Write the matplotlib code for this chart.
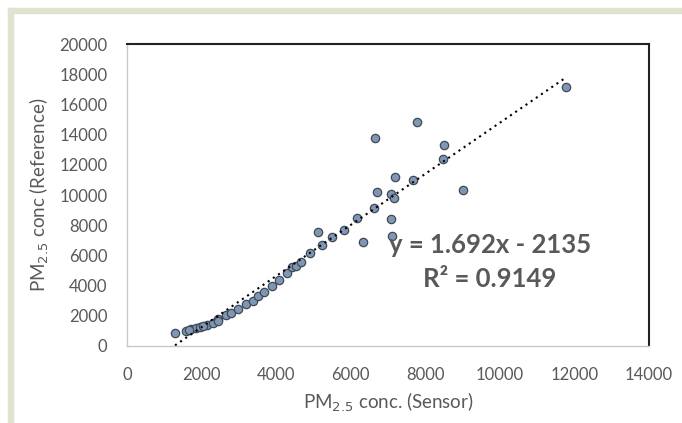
"""Scatter of sensor vs reference PM2.5 with linear trendline."""

import matplotlib.pyplot as plt
import numpy as np
from matplotlib.patches import Rectangle

# sensor readings (x) and reference readings (y)
sensor = [1287, 1574, 1716, 1842, 1958, 2154, 2297, 2449, 2655, 2789,
          2986, 3191, 3388, 3522, 3683, 3880, 4076, 4282, 4416, 4523,
          4666, 4907, 5220, 5505, 5819, 5114, 6175, 6318, 6624, 6713,
          6641, 7071, 7160, 7187, 7071, 7114, 7677, 7766, 8501, 8483,
          9019, 11764, 1650, 2050, 2450]
reference = [840, 1013, 1105, 1212, 1278, 1391, 1503, 1808, 2053, 2205,
             2430, 2781, 3000, 3311, 3596, 3993, 4371, 4812, 5212, 5298,
             5585, 6139, 6689, 7199, 7700, 7530, 8457, 6868, 9119, 10219,
             13755, 10066, 9781, 11212, 8391, 7285, 10993, 14815, 13311, 12364,
             10331, 17132, 1080, 1330, 1650]

slope = 1.692
intercept = -2135
r_squared = 0.9149

x_ticks = [0, 2000, 4000, 6000, 8000, 10000, 12000, 14000]
y_ticks = [0, 2000, 4000, 6000, 8000, 10000, 12000, 14000, 16000, 18000, 20000]

plt.rcParams["font.family"] = ["Lato", "DejaVu Sans"]
GRAY = "#595959"


def main():
    fig = plt.figure(figsize=(6.82, 4.23), dpi=100)

    # light frame round the chart, as in the source
    frame = "#dfe3d1"
    fig.patches.append(Rectangle((8 / 682, 0), 5 / 682, 1 - 8 / 423,
                                 transform=fig.transFigure, color=frame, zorder=0))
    fig.patches.append(Rectangle((8 / 682, 1 - 13 / 423), 1, 5 / 423,
                                 transform=fig.transFigure, color=frame, zorder=0))

    ax = fig.add_axes([127 / 682, 1 - 346 / 423, 522 / 682, 302 / 423])

    xs = np.array([min(sensor), max(sensor)])
    ax.plot(xs, slope * xs + intercept, color="black", linestyle=(0, (1, 2)),
            linewidth=1.5, zorder=3)
    ax.scatter(sensor, reference, s=36, facecolor="#7f96b4", edgecolor="#3f4a57",
               linewidth=0.9, zorder=2)

    ax.set_xlim(0, 14000)
    ax.set_ylim(0, 20000)
    ax.set_xticks(x_ticks)
    ax.set_yticks(y_ticks)
    ax.tick_params(length=0, labelsize=12, colors=GRAY)
    ax.tick_params(axis="y", pad=14)
    ax.tick_params(axis="x", pad=15)

    for side in ("top", "right"):
        ax.spines[side].set_color("#222222")
        ax.spines[side].set_linewidth(1.5)
    for side in ("left", "bottom"):
        ax.spines[side].set_color("#c8c8c8")
        ax.spines[side].set_linewidth(1.0)

    ax.set_xlabel("PM$_{2.5}$ conc. (Sensor)", fontsize=13.5, color=GRAY, labelpad=6)
    ax.set_ylabel("PM$_{2.5}$ conc (Reference)", fontsize=13.5, color=GRAY, labelpad=6)

    ax.text(9735, 6690, f"y = {slope}x - {abs(intercept)}", fontsize=18.5,
            fontweight="bold", color=GRAY, ha="center", va="center")
    ax.text(9735, 4440, f"R² = {r_squared}", fontsize=18.5,
            fontweight="bold", color=GRAY, ha="center", va="center")

    fig.savefig("out.png", dpi=100)
    plt.close(fig)


if __name__ == "__main__":
    main()
